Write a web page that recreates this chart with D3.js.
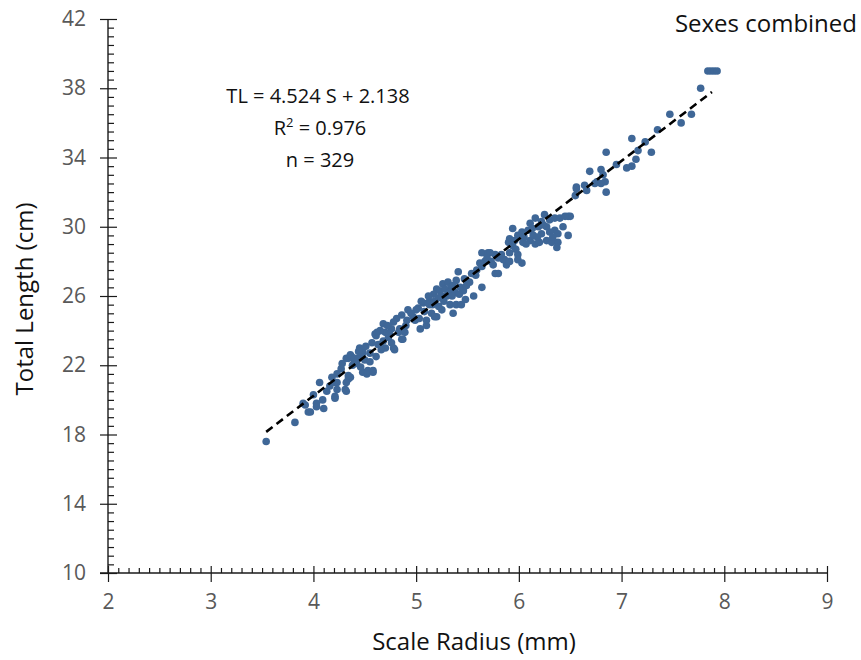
<!DOCTYPE html>
<html><head><meta charset="utf-8">
<script src="https://cdn.jsdelivr.net/npm/d3@7"></script>
<style>body{margin:0;background:#fff}svg{display:block}</style>
</head><body><svg id="c" width="861" height="660"></svg>
<script>
// ---- data ----
const xTickValues = [2, 3, 4, 5, 6, 7, 8, 9];
const yTickValues = [10, 14, 18, 22, 26, 30, 34, 38, 42];
const xTitle = "Scale Radius (mm)";
const yTitle = "Total Length (cm)";
const panelLabel = "Sexes combined";
const equationLines = ["TL = 4.524 S + 2.138", "R2 = 0.976", "n = 329"];
const slope = 4.524, intercept = 2.138;
const fitRange = [3.54, 7.88];
// [scale radius (mm), total length (cm)]
const fishPoints = [
  [3.54,17.6],[3.82,18.7],[3.90,19.8],[3.92,19.7],[3.95,19.3],[3.97,19.3],[4.00,20.3],[4.03,19.6],
  [4.03,19.8],[4.06,21.0],[4.10,19.5],[4.13,20.5],[4.16,20.8],[4.21,20.1],[4.21,20.2],[4.23,20.6],
  [4.21,21.0],[4.23,21.0],[4.23,21.5],[4.31,20.6],[4.32,20.5],[4.32,21.0],[4.34,21.2],[4.36,21.3],
  [4.32,22.4],[4.34,22.4],[4.37,22.5],[4.36,22.6],[4.40,22.2],[4.40,22.4],[4.42,22.1],[4.45,23.0],
  [4.48,22.7],[4.48,22.9],[4.48,21.6],[4.50,22.3],[4.52,21.5],[4.53,21.7],[4.58,21.6],[4.58,21.7],
  [4.55,22.2],[4.55,22.7],[4.61,22.5],[4.34,21.4],[4.38,22.0],[4.44,22.4],[4.46,21.9],
  [4.63,23.2],[4.65,23.2],[4.61,23.7],[4.60,23.8],[4.68,23.4],[4.70,23.0],[4.76,23.3],[4.78,23.0],
  [4.79,22.9],[4.73,23.6],[4.70,23.9],[4.68,24.4],[4.76,24.1],[4.84,24.1],[4.86,23.5],[4.87,23.5],
  [4.81,24.7],[4.86,24.9],[4.92,25.2],[4.91,24.6],[4.97,24.8],[5.02,25.3],[5.04,24.1],[5.10,24.3],
  [5.07,25.6],[5.13,25.7],[5.15,25.0],[5.20,24.8],[5.20,26.4],[5.17,26.1],[4.99,24.6],[5.00,25.2],
  [5.05,25.7],[5.10,24.6],[5.13,25.5],[5.18,25.7],[5.18,24.8],[5.23,26.3],[5.25,25.2],[5.26,26.7],
  [5.31,26.8],[5.33,25.5],[5.39,25.5],[5.44,25.5],[5.36,25.0],[5.39,26.9],[5.34,26.5],[5.43,26.5],
  [5.46,26.3],[5.49,26.6],[5.56,26.0],[5.54,27.3],[5.41,27.4],[5.59,27.5],[5.64,27.7],[5.64,26.5],
  [5.73,28.0],[5.77,27.3],[5.80,27.3],[5.64,28.5],[5.70,28.5],[5.77,28.4],[5.80,28.2],[5.86,28.1],
  [5.88,27.8],[5.91,28.5],[5.94,28.9],[5.91,29.3],[5.94,29.9],[5.99,29.5],[5.99,28.4],
  [4.65,24.0],[4.72,24.3],[4.78,24.5],[4.62,23.9],[4.74,23.8],
  [5.28,26.4],[5.32,26.2],[5.36,26.6],[5.30,26.0],[5.38,26.2],[5.25,26.0],[5.22,25.9],
  [5.72,28.5],[5.67,28.0],[5.85,28.1],[5.91,28.0],[5.99,28.1],[6.03,27.9],[5.90,29.1],[5.96,29.2],
  [6.04,29.1],[6.11,29.2],[6.16,29.0],[6.20,29.1],[6.27,29.2],[6.32,29.1],[6.38,29.1],[6.48,29.5],
  [6.03,29.7],[6.09,29.8],[6.11,30.2],[6.16,30.5],[6.19,30.0],[6.22,30.3],[6.27,30.0],[6.30,30.4],
  [6.35,30.5],[6.35,29.8],[6.38,29.6],[6.40,30.5],[6.48,30.6],[6.25,30.7],[6.37,28.8],
  [6.05,29.4],[6.14,29.5],[6.22,29.6],[6.30,29.7],[6.50,30.6],
  [6.56,32.2],[6.55,31.8],[6.64,32.4],[6.66,32.1],[6.56,32.3],[6.69,33.2],[6.76,32.6],[6.80,33.3],
  [6.82,33.0],[6.84,32.6],[6.85,34.3],[6.85,32.0],[6.95,33.6],[7.05,33.4],[7.10,33.5],[7.10,35.1],
  [7.14,33.9],[7.16,34.4],[7.23,34.9],[7.29,34.3],[7.35,35.6],[7.47,36.5],[7.58,36.0],[7.68,36.5],
  [7.77,38.0],[7.84,39.0],[7.87,39.0],[7.90,39.0],[7.93,39.0],[6.74,32.5],[6.80,32.5],
  [4.27,21.8],[4.44,22.8],[4.57,23.3],[4.66,22.9],[4.83,23.9],[4.90,24.3],[4.95,25.0],[5.03,24.7],
  [5.08,25.1],[5.12,26.0],[5.16,25.5],[5.22,25.4],[5.27,25.7],[5.35,26.0],[5.42,26.1],[5.47,27.0],
  [5.52,26.8],[5.58,27.2],[5.62,27.9],[5.69,28.2],[5.75,27.8],[5.83,28.4],[5.97,28.7],[6.07,29.0],
  [6.13,29.9],[6.18,29.4],[6.24,30.1],[6.33,29.4],[6.43,30.0],[6.45,30.6],[4.09,20.0],[4.18,21.3],
  [4.28,22.1],[4.51,23.1],[4.89,23.9],[5.48,25.8]
];

// ---- chart ----
const svg = d3.select("#c");
const mLeft = 108, mRight = 827, mTop = 19, mBottom = 573;
const x = d3.scaleLinear().domain([2, 9]).range([mLeft, mRight]);
const y = d3.scaleLinear().domain([10, 42]).range([mBottom, mTop]);
const font = "'Open Sans', 'Noto Sans', sans-serif";
const axisColor = "#1a1a1a";

// minor ticks
const xMinor = d3.range(20, 91).map(v => v / 10).filter(v => !xTickValues.includes(v));
const yMinor = d3.range(20, 85).map(v => v / 2).filter(v => !yTickValues.includes(v));

function styleAxis(g) {
  g.select(".domain").remove();
  g.selectAll("line").attr("stroke", axisColor).attr("stroke-width", 1.2);
}

// y axis
svg.append("g").attr("transform", `translate(${mLeft},0)`)
  .call(d3.axisRight(y).tickValues(yMinor).tickSize(6).tickFormat(""))
  .call(styleAxis);
svg.append("g").attr("transform", `translate(${mLeft},0)`)
  .call(d3.axisRight(y).tickValues(yTickValues).tickSize(9).tickFormat(""))
  .call(styleAxis);
const yAx = svg.append("g").attr("transform", `translate(${mLeft},0)`)
  .call(d3.axisLeft(y).tickValues(yTickValues).tickSize(8).tickPadding(14).tickFormat(d3.format("d")))
  .call(styleAxis);
yAx.selectAll("text").attr("fill", "#595959").style("font-family", font).style("font-size", "21px");

// x axis
svg.append("g").attr("transform", `translate(0,${mBottom})`)
  .call(d3.axisTop(x).tickValues(xMinor).tickSize(5).tickFormat(""))
  .call(styleAxis);
svg.append("g").attr("transform", `translate(0,${mBottom})`)
  .call(d3.axisTop(x).tickValues(xTickValues).tickSize(7).tickFormat(""))
  .call(styleAxis);
const xAx = svg.append("g").attr("transform", `translate(0,${mBottom})`)
  .call(d3.axisBottom(x).tickValues(xTickValues).tickSize(9).tickPadding(12).tickFormat(d3.format("d")))
  .call(styleAxis);
xAx.selectAll("text").attr("fill", "#595959").style("font-family", font).style("font-size", "21px");

// axis lines
svg.append("line").attr("x1", mLeft).attr("x2", mLeft).attr("y1", y(42)).attr("y2", y(10))
  .attr("stroke", axisColor).attr("stroke-width", 1.4);
svg.append("line").attr("x1", mLeft - 8).attr("x2", x(9)).attr("y1", mBottom).attr("y2", mBottom)
  .attr("stroke", axisColor).attr("stroke-width", 1.4);

// points
svg.append("g").selectAll("circle").data(fishPoints).join("circle")
  .attr("cx", d => x(d[0])).attr("cy", d => y(d[1])).attr("r", 3.8)
  .attr("fill", "#3f6797");

// trend line
svg.append("line")
  .attr("x1", x(fitRange[0])).attr("y1", y(slope * fitRange[0] + intercept))
  .attr("x2", x(fitRange[1])).attr("y2", y(slope * fitRange[1] + intercept))
  .attr("stroke", "#000").attr("stroke-width", 2.6).attr("stroke-dasharray", "8,5");

// titles
svg.append("text").attr("x", 474).attr("y", 650).attr("text-anchor", "middle")
  .style("font-family", font).style("font-size", "24px").attr("fill", "#111").text(xTitle);
svg.append("text").attr("transform", `translate(33,299) rotate(-90)`).attr("text-anchor", "middle")
  .style("font-family", font).style("font-size", "24px").attr("fill", "#111").text(yTitle);
svg.append("text").attr("x", 857).attr("y", 32).attr("text-anchor", "end")
  .style("font-family", font).style("font-size", "24px").attr("fill", "#111").text(panelLabel);

// equation
const eq = svg.append("g").style("font-family", font).style("font-size", "20px").attr("fill", "#111");
eq.append("text").attr("x", 318).attr("y", 103).attr("text-anchor", "middle").text(equationLines[0]);
const r2 = eq.append("text").attr("x", 320).attr("y", 135).attr("text-anchor", "middle");
r2.append("tspan").text("R");
r2.append("tspan").attr("dy", -8).style("font-size", "13px").text("2");
r2.append("tspan").attr("dy", 8).text(" = 0.976");
eq.append("text").attr("x", 320).attr("y", 167).attr("text-anchor", "middle").text(equationLines[2]);
</script>
</body></html>
